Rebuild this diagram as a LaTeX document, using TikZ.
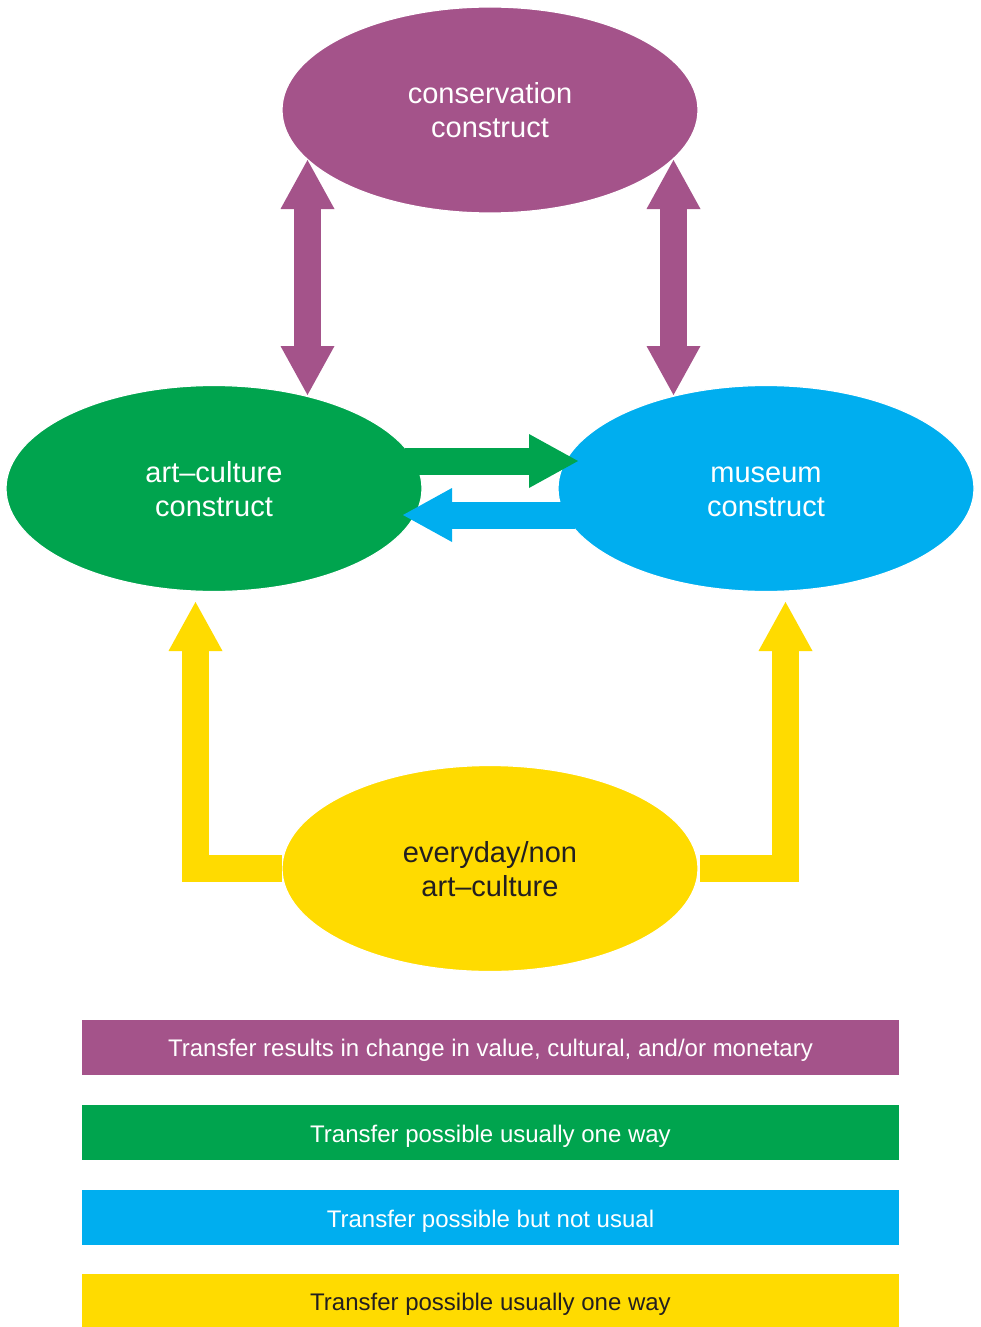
\documentclass[tikz,border=0pt]{standalone}
\usepackage{fontspec}
\setmainfont{Liberation Sans}
\usetikzlibrary{arrows.meta,shapes.geometric}
\definecolor{cpurple}{HTML}{A4538A}
\definecolor{cgreen}{HTML}{00A44E}
\definecolor{cblue}{HTML}{00AEEF}
\definecolor{cyellow}{HTML}{FFDB00}
\definecolor{ctext}{HTML}{231F20}
\newcommand{\twolines}[2]{\raisebox{-4pt}[\height][\depth]{\begin{tabular}{@{}c@{}}#1\\#2\end{tabular}}}
\tikzset{
  construct/.style={ellipse, draw=white, line width=1.2pt, minimum width=416pt, minimum height=206pt,
    inner sep=0pt, outer sep=0pt, font=\fontsize{29}{34}\selectfont, text=white},
  legend/.style={rectangle, minimum width=817pt, minimum height=55pt, inner sep=0pt, outer sep=0pt,
    text height=19pt, text depth=0pt, font=\fontsize{24}{28}\selectfont, text=white},
  flow/.style={line width=27pt},
  bigtip/.tip={Triangle[width=54pt,length=49pt,line width=0pt]}
}
\begin{document}
\begin{tikzpicture}[x=1pt,y=-1pt]
\useasboundingbox (0,0) rectangle (981,1327);
% constructs
\node[construct, fill=cpurple] (cons) at (490,110) {\twolines{conservation}{construct}};
\node[construct, fill=cgreen] (art) at (214,488.5) {\twolines{art\textendash culture}{construct}};
\node[construct, fill=cblue] (mus) at (766,488.5) {\twolines{museum}{construct}};
\node[construct, fill=cyellow, text=ctext] (ever) at (490,868.5) {\twolines{everyday/non}{art\textendash culture}};
% arrow end points
\coordinate (pl1) at (307.5,160);
\coordinate (pl2) at (307.5,395);
\coordinate (pr1) at (673.5,160);
\coordinate (pr2) at (673.5,395);
\coordinate (g1) at (405,461);
\coordinate (g2) at (578,461);
\coordinate (b1) at (575,515);
\coordinate (b2) at (403,515);
\coordinate (yl) at (195.5,602);
\coordinate (yr) at (785.5,602);
% connectors
\draw[flow, cpurple, {bigtip}-{bigtip}] (pl1) -- (pl2);
\draw[flow, cpurple, {bigtip}-{bigtip}] (pr1) -- (pr2);
\draw[flow, cgreen, -{bigtip}] (g1) -- (g2);
\draw[flow, cblue, -{bigtip}] (b1) -- (b2);
\draw[flow, cyellow, -{bigtip}] (ever.west) -| (yl);
\draw[flow, cyellow, -{bigtip}] ([xshift=2pt]ever.east) -| (yr);
% legend
\node[legend, fill=cpurple] (l1) at (490.5,1047) {Transfer results in change in value, cultural, and/or monetary};
\node[legend, fill=cgreen] (l2) at (490.5,1132.5) {Transfer possible usually one way};
\node[legend, fill=cblue] (l3) at (490.5,1217.5) {Transfer possible but not usual};
\node[legend, fill=cyellow, text=ctext, minimum height=53pt] (l4) at (490.5,1300.5) {Transfer possible usually one way};
\end{tikzpicture}
\end{document}
